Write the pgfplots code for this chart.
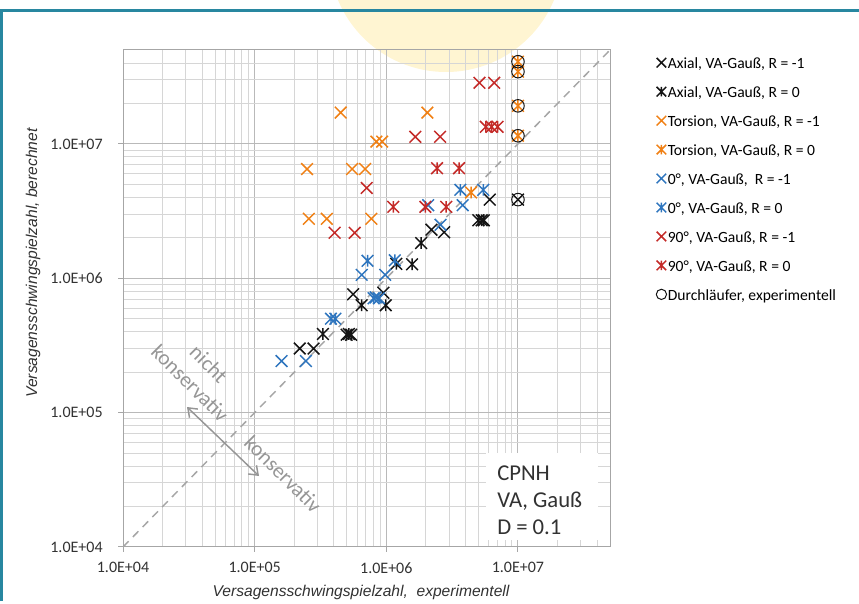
\documentclass[border=0pt]{standalone}
\usepackage{fontspec}
\setmainfont{Carlito}
\newfontfamily\arialfont{Liberation Sans}
\usepackage{pgfplots}
\pgfplotsset{compat=1.18}
\usetikzlibrary{arrows.meta}

\definecolor{serBlack}{RGB}{20,20,20}
\definecolor{serOrange}{RGB}{240,128,20}
\definecolor{serRed}{RGB}{196,42,40}
\definecolor{serBlue}{RGB}{46,117,190}
\definecolor{gridMajor}{RGB}{185,185,185}
\definecolor{gridMinor}{RGB}{214,214,214}
\definecolor{axGray}{RGB}{166,166,166}
\definecolor{frameTeal}{RGB}{40,135,160}
\definecolor{sunYellow}{RGB}{255,245,210}
\definecolor{noteGray}{RGB}{150,150,150}
\definecolor{txtGray}{RGB}{50,50,50}

% Excel-style star: x plus a vertical bar
\pgfdeclareplotmark{xstar}{%
  \pgfpathmoveto{\pgfqpoint{-.7071\pgfplotmarksize}{-.7071\pgfplotmarksize}}%
  \pgfpathlineto{\pgfqpoint{.7071\pgfplotmarksize}{.7071\pgfplotmarksize}}%
  \pgfpathmoveto{\pgfqpoint{-.7071\pgfplotmarksize}{.7071\pgfplotmarksize}}%
  \pgfpathlineto{\pgfqpoint{.7071\pgfplotmarksize}{-.7071\pgfplotmarksize}}%
  \pgfpathmoveto{\pgfqpoint{0pt}{-.7071\pgfplotmarksize}}%
  \pgfpathlineto{\pgfqpoint{0pt}{.7071\pgfplotmarksize}}%
  \pgfusepathqstroke}

\pgfplotsset{
  ser/.style={only marks, mark size=6.2pt, line width=1.1pt, draw=#1},
}

\begin{document}
\begin{tikzpicture}
\begin{scope}[x=0.75pt,y=-0.75pt]
  \path[use as bounding box] (0,0) rectangle (859,601);
  \begin{scope}
    \clip (0,0) rectangle (859,601);
    \fill[sunYellow] (446,-45) circle (117);
  \end{scope}
  \draw[frameTeal, line width=2.25pt] (1.5,601) -- (1.5,10.5) -- (859,10.5);
\end{scope}

\begin{axis}[
  at={(92.25pt,-410.25pt)}, anchor=south west,
  scale only axis, width=365.25pt, height=372.75pt,
  xmode=log, ymode=log,
  xmin=1e4, xmax=5e7, ymin=1e4, ymax=5e7,
  axis line style={axGray, line width=0.75pt},
  tick pos=left, tick align=outside,
  major tick length=3.75pt, minor tick length=0pt,
  tick style={axGray, line width=0.75pt},
  xtick={1e4,1e5,1e6,1e7},
  xticklabels={1.0E+04,1.0E+05,1.0E+06,1.0E+07},
  ytick={1e4,1e5,1e6,1e7},
  yticklabels={1.0E+04,1.0E+05,1.0E+06,1.0E+07},
  minor xtick={2e4,3e4,4e4,5e4,6e4,7e4,8e4,9e4,2e5,3e5,4e5,5e5,6e5,7e5,8e5,9e5,2e6,3e6,4e6,5e6,6e6,7e6,8e6,9e6,2e7,3e7,4e7},
  minor ytick={2e4,3e4,4e4,5e4,6e4,7e4,8e4,9e4,2e5,3e5,4e5,5e5,6e5,7e5,8e5,9e5,2e6,3e6,4e6,5e6,6e6,7e6,8e6,9e6,2e7,3e7,4e7},
  grid=both,
  major grid style={gridMajor, line width=0.75pt},
  minor grid style={gridMinor, line width=0.75pt},
  ticklabel style={font=\fontsize{12}{14}\selectfont, text=txtGray},
  xticklabel style={yshift=-4.3pt},
  yticklabel style={xshift=-8pt},
  legend image code/.code={\draw[#1, mark options={scale=0.82}] plot coordinates {(0pt,0pt)};},
  legend cell align=left,
  legend style={draw=none, fill=none, at={(1.0945,0.9907)}, anchor=north west,
    inner sep=0pt, row sep=10.0pt, nodes={inner ysep=0pt, inner xsep=0.9pt},
    font=\fontsize{11.7}{14.6}\selectfont},
]
\addplot[dashed, dash pattern=on 6pt off 4.5pt, draw=axGray, line width=1.1pt, forget plot]
  coordinates {(1e4,1e4) (5e7,5e7)};

% Axial, R = -1
\addplot[ser=serBlack, mark=x] coordinates {
  (2.2e5,3.0e5) (2.8e5,3.0e5) (5.6e5,7.6e5) (9.5e5,7.8e5)
  (2.2e6,2.3e6) (2.75e6,2.2e6) (6.1e6,3.85e6) (1e7,3.85e6)};
\addlegendentry{\strut Axial, VA-Gauß, R = -1}
% Axial, R = 0
\addplot[ser=serBlack, mark=xstar] coordinates {
  (3.3e5,3.85e5) (5.0e5,3.8e5) (5.2e5,3.85e5) (5.4e5,3.8e5)
  (6.5e5,6.3e5) (9.9e5,6.3e5) (1.19e6,1.28e6) (1.57e6,1.27e6)
  (1.84e6,1.83e6) (5.0e6,2.7e6) (5.3e6,2.7e6) (5.5e6,2.7e6)};
\addlegendentry{\strut Axial, VA-Gauß, R = 0}
% Torsion, R = -1
\addplot[ser=serOrange, mark=x] coordinates {
  (4.5e5,1.71e7) (2.05e6,1.71e7) (8.4e5,1.04e7) (9.3e5,1.04e7)
  (2.5e5,6.5e6) (5.5e5,6.5e6) (6.9e5,6.5e6)
  (2.58e5,2.77e6) (3.53e5,2.77e6) (7.7e5,2.77e6)};
\addlegendentry{\strut Torsion, VA-Gauß, R = -1}
% Torsion, R = 0
\addplot[ser=serOrange, mark=xstar] coordinates {
  (4.4e6,4.35e6) (1e7,4.09e7) (1e7,3.45e7) (1e7,1.92e7) (1e7,1.15e7)};
\addlegendentry{\strut Torsion, VA-Gauß, R = 0}
% 0 deg, R = -1
\addplot[ser=serBlue, mark=x] coordinates {
  (1.6e5,2.42e5) (2.45e5,2.42e5) (6.5e5,1.06e6) (9.8e5,1.06e6)
  (8.3e5,7.2e5) (2.58e6,2.5e6) (2.08e6,3.5e6) (3.8e6,3.5e6)};
\addlegendentry{\strut 0°, VA-Gauß,~ R = -1}
% 0 deg, R = 0
\addplot[ser=serBlue, mark=xstar] coordinates {
  (3.8e5,5.0e5) (4.1e5,5.0e5) (7.2e5,1.35e6) (1.16e6,1.36e6)
  (8.0e5,7.1e5) (8.8e5,7.1e5) (3.65e6,4.55e6) (5.45e6,4.55e6)};
\addlegendentry{\strut 0°, VA-Gauß, R = 0}
% 90 deg, R = -1
\addplot[ser=serRed, mark=x] coordinates {
  (5.1e6,2.85e7) (6.6e6,2.85e7) (1.66e6,1.13e7) (2.56e6,1.13e7)
  (7.1e5,4.7e6) (4.05e5,2.18e6) (5.75e5,2.18e6)};
\addlegendentry{\strut 90°, VA-Gauß, R = -1}
% 90 deg, R = 0
\addplot[ser=serRed, mark=xstar] coordinates {
  (5.7e6,1.34e7) (6.3e6,1.34e7) (7.0e6,1.34e7) (2.43e6,6.6e6)
  (3.57e6,6.6e6) (1.13e6,3.4e6) (1.98e6,3.4e6) (2.85e6,3.4e6)};
\addlegendentry{\strut 90°, VA-Gauß, R = 0}
% run-outs
\addplot[only marks, mark=o, mark size=4.7pt, line width=0.75pt, draw=serBlack] coordinates {
  (1e7,4.09e7) (1e7,3.45e7) (1e7,1.92e7) (1e7,1.15e7) (1e7,3.85e6)};
\addlegendentry{\strut Durchläufer, experimentell}
\end{axis}

\begin{scope}[x=0.75pt,y=-0.75pt]
  \node[rotate=-45, text=noteGray, align=center, font=\fontsize{16}{20}\selectfont] at (199.5,373.5) {nicht\\konservativ};
  \node[rotate=-45, text=noteGray, font=\fontsize{16}{18}\selectfont] at (283,474) {konservativ};
  \draw[noteGray, line width=1.1pt, {Straight Barb[length=6pt,width=9pt]}-{Straight Barb[length=6pt,width=9pt]}]
    (187,407) -- (259,476);
  \fill[white] (486,453) rectangle (598,540);
  \node[anchor=base west, inner sep=0pt, font=\fontsize{17}{20}\selectfont, text=txtGray] at (497,480) {CPNH};
  \node[anchor=base west, inner sep=0pt, font=\fontsize{17}{20}\selectfont, text=txtGray] at (497,507) {VA, Gauß};
  \node[anchor=base west, inner sep=0pt, font=\fontsize{17}{20}\selectfont, text=txtGray] at (497,534) {D = 0.1};
  \node[font=\arialfont\itshape\fontsize{11.7}{14}\selectfont, text=txtGray] at (361,592)
    {Versagensschwingspielzahl,\ \ experimentell};
  \node[rotate=90, font=\arialfont\itshape\fontsize{11.7}{14}\selectfont, text=txtGray] at (33,263)
    {Versagensschwingspielzahl, berechnet};
\end{scope}
\end{tikzpicture}
\end{document}
